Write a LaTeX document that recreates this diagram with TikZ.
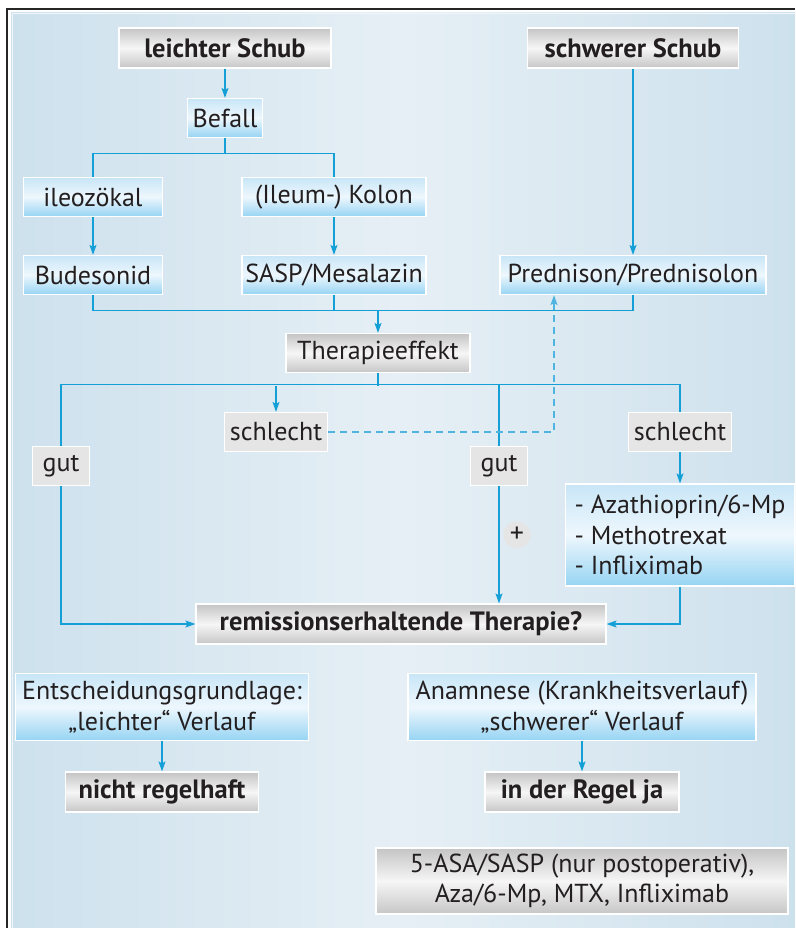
\documentclass[tikz,border=0pt]{standalone}
\usepackage{fontspec}
\setmainfont{PT Sans}
\usetikzlibrary{positioning,arrows.meta}

\definecolor{flowblue}{RGB}{20,160,215}
\definecolor{dashblue}{RGB}{80,180,225}
\definecolor{textdark}{RGB}{35,31,32}
\definecolor{bgside}{RGB}{205,225,237}
\definecolor{bgmid}{RGB}{230,239,245}
\definecolor{bluetop}{RGB}{200,230,247}
\definecolor{bluemid}{RGB}{238,247,253}
\definecolor{bluebot}{RGB}{150,212,243}
\definecolor{graytop}{RGB}{196,196,196}
\definecolor{graymid}{RGB}{246,246,246}
\definecolor{graybot}{RGB}{198,198,198}
\definecolor{tagfill}{RGB}{229,229,229}

\begin{document}
\begin{tikzpicture}[x=1pt,y=-1pt,
		every node/.style={font=\fontsize{26}{30.5}\selectfont, text=textdark, inner sep=0pt, align=center},
		bluebox/.style={draw=white, line width=1.2pt, top color=bluetop, bottom color=bluebot, middle color=bluemid, minimum height=39pt},
		graybox/.style={draw=white, line width=1.2pt, top color=graytop, bottom color=graybot, middle color=graymid, minimum height=39pt},
		headbox/.style={graybox, minimum height=40pt, font=\fontsize{26.5}{30.5}\selectfont\bfseries},
		tagbox/.style={draw=white, line width=1.2pt, fill=tagfill, minimum height=39pt},
		plusnode/.style={circle, fill=tagfill, minimum size=27pt, font=\fontsize{28}{28}\selectfont},
		link/.style={draw=flowblue, line width=1.1pt},
		arr/.style={link, -{Stealth[length=10pt,width=7pt,inset=2pt]}},
		dasharr/.style={draw=dashblue, line width=1.1pt, dash pattern=on 7pt off 5pt, -{Stealth[length=10pt,width=7pt,inset=2pt]}},
	]

	%Frame
	\useasboundingbox (0,0) rectangle (795,928);
	\fill[white] (0,0) rectangle (795,928);
	\shade[left color=bgside, right color=bgside, middle color=bgmid] (11,13) rectangle (795,928);
	\draw[white!70!bgside, line width=1pt] (12,928) -- (12,14) -- (795,14);
	\draw[black!85, line width=2pt] (6.5,928) -- (6.5,9.5) -- (795,9.5);

	%Nodes
	\node[headbox, minimum width=212pt]	(leicht)	at (225,48)		{leichter Schub};
	\node[headbox, minimum width=211pt]	(schwer)	at (633,48)		{schwerer Schub};
	\node[bluebox, minimum width=75pt]	(befall)	at (225,118)	{Befall};
	\node[bluebox, minimum width=139pt]	(ileo)		at (93,197)		{ileozökal};
	\node[bluebox, minimum width=184pt]	(kolon)		at (334,197)	{(Ileum-) Kolon};
	\node[bluebox, minimum width=139pt]	(budes)		at (93,275)		{Budesonid};
	\node[bluebox, minimum width=184pt]	(sasp)		at (334,275)	{SASP/Mesalazin};
	\node[bluebox, minimum width=266pt]	(pred)		at (633,275)	{Prednison/Prednisolon};
	\node[graybox, minimum width=184pt]	(therapie)	at (378,353)	{Therapieeffekt};
	\node[tagbox, minimum width=103pt]	(schll)		at (276,432)	{schlecht};
	\node[tagbox, minimum width=103pt]	(schlr)		at (680,432)	{schlecht};
	\node[tagbox, minimum width=57pt]	(gutl)		at (61,466)		{gut};
	\node[tagbox, minimum width=57pt]	(gutm)		at (499,466)	{gut};
	\node[plusnode]						(plus)		at (517,535)	{+};
	\node[bluebox, minimum width=229pt, minimum height=102pt, align=left]	(aza)	at (680,535)
		{- Azathioprin/6-Mp\\- Methotrexat\\- Infliximab};
	\node[headbox, minimum width=410pt]	(remis)		at (401,624)	{remissionserhaltende Therapie?};
	\node[bluebox, minimum width=293pt, minimum height=67pt]	(entsch)	at (162,707)
		{Entscheidungsgrundlage:\\„leichter“ Verlauf};
	\node[headbox, minimum width=193pt]	(nicht)		at (162,792)	{nicht regelhaft};
	\node[bluebox, minimum width=348pt, minimum height=67pt]	(anam)		at (582,707)
		{Anamnese (Krankheitsverlauf)\\„schwerer“ Verlauf};
	\node[headbox, minimum width=194pt]	(inregel)	at (582,792)	{in der Regel ja};
	\node[graybox, minimum width=412pt, minimum height=66pt]	(asa)		at (582,881)
		{5-ASA/SASP (nur postoperativ),\\Aza/6-Mp, MTX, Infliximab};

	%Lines
	\draw[arr]		(leicht) -- (befall);
	\draw[link]		(befall.south) -- ++(0,15) -| (ileo.north);
	\draw[link]		(befall.south) -- ++(0,15) -| (kolon.north);
	\draw[arr]		(ileo) -- (budes);
	\draw[arr]		(kolon) -- (sasp);
	\draw[arr]		(schwer) -- (pred);
	\draw[link]		(budes.south) -- ++(0,15) -| (pred.south);
	\draw[link]		(sasp.south) -- ++(0,15);
	\draw[arr]		(therapie.north |- budes.south) ++(0,15) -- (therapie.north);
	\draw[link]		(therapie.south) -- ++(0,13);
	\draw[link]		(gutl.north) -- ++(0,-61) -| (schlr.north);
	\draw[arr]		(schll.north) ++(0,-26) -- (schll.north);
	\draw[link]		(gutm.north) -- ++(0,-61);
	\draw[dasharr]	(schll.east) -| ([xshift=-79pt]pred.south);
	\draw[arr]		(gutl.south) |- (remis.west);
	\draw[arr]		(gutm.south) -- (gutm.south |- remis.north);
	\draw[arr]		(schlr) -- (aza);
	\draw[arr]		(aza.south) |- (remis.east);
	\draw[arr]		(entsch) -- (nicht);
	\draw[arr]		(anam) -- (inregel);

\end{tikzpicture}
\end{document}
